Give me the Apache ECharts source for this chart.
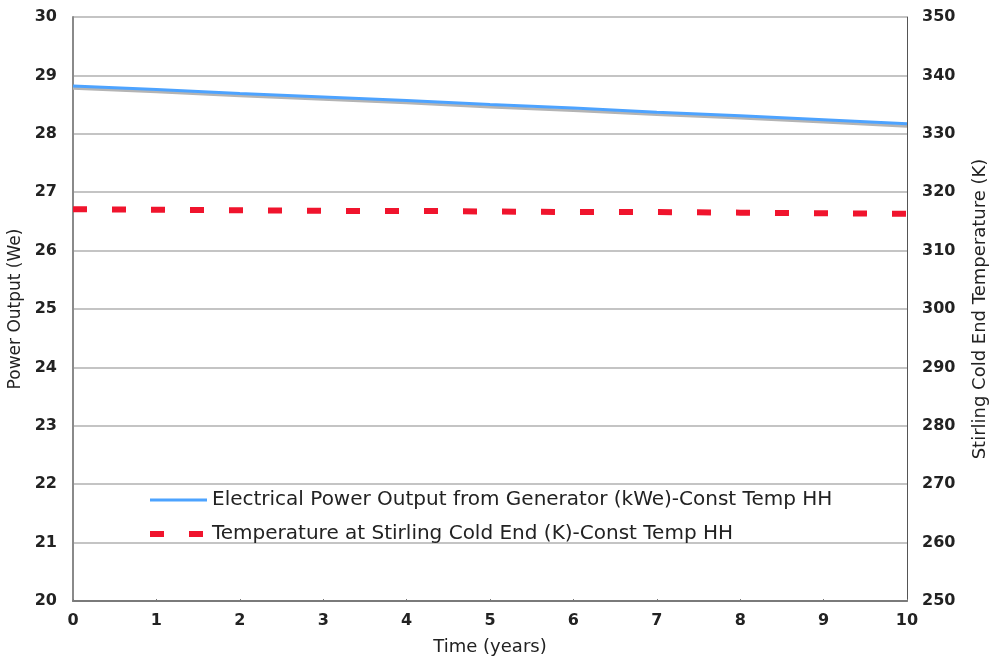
<!DOCTYPE html>
<html>
<head>
<meta charset="utf-8">
<script src="https://cdn.jsdelivr.net/npm/echarts@6/dist/echarts.min.js"></script>
<style>
  html, body { margin: 0; padding: 0; background: #ffffff; }
  #chart { width: 992px; height: 663px; }
</style>
</head>
<body>
<div id="chart"></div>
<script>
// Years since start of operation
const years = [0, 1, 2, 3, 4, 5, 6, 7, 8, 9, 10];
// Electrical power output, constant hot-head temperature (left axis)
const powerOutput = [28.82, 28.76, 28.69, 28.63, 28.57, 28.50, 28.44, 28.37, 28.31, 28.24, 28.17];
// Reference power curve drawn just beneath the main one (left axis)
const powerReference = [28.78, 28.72, 28.65, 28.59, 28.53, 28.46, 28.40, 28.33, 28.27, 28.20, 28.13];
// Stirling cold-end temperature in kelvin (right axis)
const coldEndTemp = [317.1, 317.0, 316.9, 316.8, 316.8, 316.7, 316.6, 316.6, 316.5, 316.4, 316.3];

const powerName = 'Electrical Power Output from Generator (kWe)-Const Temp HH';
const tempName = 'Temperature at Stirling Cold End (K)-Const Temp HH';

const pairs = (xs, ys) => xs.map((x, i) => [x, ys[i]]);

const font = 'DejaVu Sans, Verdana, sans-serif';
const tickLabel = { fontFamily: font, fontSize: 16, fontWeight: 'bold', color: '#222' };

const chart = echarts.init(document.getElementById('chart'), null, { renderer: 'canvas' });
chart.setOption({
  animation: false,
  backgroundColor: '#ffffff',
  grid: { left: 73, right: 85, top: 17, bottom: 62, containLabel: false, outerBoundsMode: 'none' },
  legend: {
    orient: 'vertical',
    left: 142,
    top: 485,
    itemWidth: 57,
    itemHeight: 10,
    itemGap: 14,
    data: [
      { name: powerName, lineStyle: { width: 3 } },
      { name: tempName, lineStyle: { width: 6 } }
    ],
    itemStyle: { opacity: 0 },
    textStyle: { fontFamily: font, fontSize: 20, color: '#222' }
  },
  xAxis: {
    type: 'value',
    min: 0,
    max: 10,
    interval: 1,
    name: 'Time (years)',
    nameLocation: 'middle',
    nameGap: 37,
    nameTextStyle: { fontFamily: font, fontSize: 18, color: '#222' },
    axisLine: { lineStyle: { color: '#7a7a7a', width: 2 } },
    axisTick: { show: true, inside: true, length: 2, lineStyle: { color: '#7a7a7a' } },
    axisLabel: Object.assign({ margin: 12 }, tickLabel),
    splitLine: { show: false }
  },
  yAxis: [
    {
      type: 'value',
      min: 20,
      max: 30,
      interval: 1,
      name: 'Power Output (We)',
      nameLocation: 'middle',
      nameGap: 49,
      nameTextStyle: { fontFamily: font, fontSize: 17, color: '#222' },
      axisLine: { show: true, lineStyle: { color: '#8a8a8a', width: 2 } },
      axisTick: { show: false },
      axisLabel: Object.assign({ margin: 16 }, tickLabel),
      splitLine: { show: true, lineStyle: { color: '#c4c4c4', width: 2 } }
    },
    {
      type: 'value',
      min: 250,
      max: 350,
      interval: 10,
      name: 'Stirling Cold End Temperature (K)',
      nameLocation: 'middle',
      nameRotate: 90,
      nameGap: 64,
      nameTextStyle: { fontFamily: font, fontSize: 18, color: '#222' },
      axisLine: { show: true, lineStyle: { color: '#555555', width: 1 } },
      axisTick: { show: false },
      axisLabel: Object.assign({ margin: 15 }, tickLabel),
      splitLine: { show: false }
    }
  ],
  series: [
    {
      name: 'reference',
      type: 'line',
      yAxisIndex: 0,
      data: pairs(years, powerReference),
      symbol: 'none',
      lineStyle: { color: '#b4b4b4', width: 3 },
      z: 1
    },
    {
      name: powerName,
      type: 'line',
      yAxisIndex: 0,
      data: pairs(years, powerOutput),
      symbol: 'none',
      itemStyle: { color: '#4da3ff' },
      lineStyle: { color: '#4da3ff', width: 3 },
      z: 2
    },
    {
      name: tempName,
      type: 'line',
      yAxisIndex: 1,
      data: pairs(years, coldEndTemp),
      symbol: 'none',
      itemStyle: { color: '#f0142d' },
      lineStyle: { color: '#f0142d', width: 6, type: [14, 25] },
      z: 3
    }
  ]
});
</script>
</body>
</html>
